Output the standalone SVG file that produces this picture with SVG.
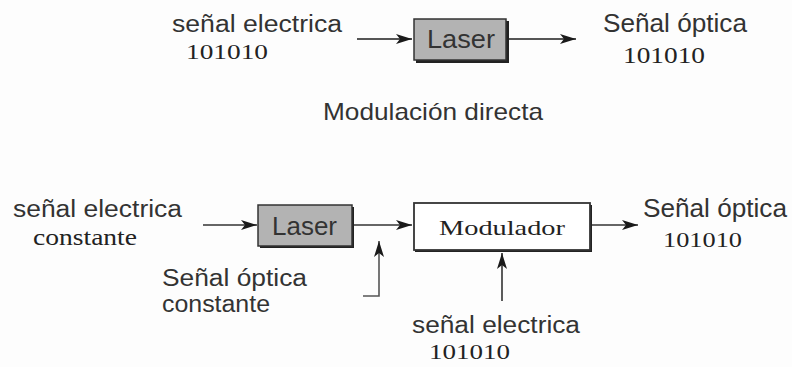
<svg xmlns="http://www.w3.org/2000/svg" width="792" height="367" viewBox="0 0 792 367">
<defs>
<marker id="ah" markerUnits="userSpaceOnUse" markerWidth="18" markerHeight="12" refX="16" refY="5" orient="auto">
<path d="M0,0 L16,5 L0,10 L4,5 z" fill="#1a1a1a"/>
</marker>
</defs>
<style>
.sans{font-family:"Liberation Sans",Arial,sans-serif;fill:#333}
.serif{font-family:"Liberation Serif","Times New Roman",serif;fill:#222}
.conn{stroke:#333;stroke-width:1.6;fill:none}
.connt{stroke:#555;stroke-width:2.2;fill:none}
.laser{fill:#b3b3b3;stroke:#333;stroke-width:1.5}
.shadow{fill:#222}
.mod{fill:#fff;stroke:#333;stroke-width:1.8}
</style>
<rect width="792" height="367" fill="#fdfdfd"/>

<g id="connectors">
<line class="connt" x1="357" y1="39" x2="412" y2="39" marker-end="url(#ah)"/>
<line class="connt" x1="509" y1="39" x2="576" y2="39" marker-end="url(#ah)"/>
<line class="conn" x1="203" y1="225" x2="257" y2="225" marker-end="url(#ah)"/>
<line class="conn" x1="354" y1="225" x2="412" y2="225" marker-end="url(#ah)"/>
<line class="conn" x1="592" y1="225" x2="638" y2="225" marker-end="url(#ah)"/>
<polyline class="conn" points="363,296 379,296 379,241" marker-end="url(#ah)" style="stroke:#555"/>
<line class="conn" x1="502" y1="301" x2="502" y2="253" marker-end="url(#ah)"/>
</g>

<g id="top-input">
<text class="sans" x="172" y="32" font-size="23" textLength="170" lengthAdjust="spacingAndGlyphs">señal electrica</text>
<text class="serif" x="186" y="59" font-size="21" textLength="82" lengthAdjust="spacingAndGlyphs">101010</text>
</g>

<g id="top-laser">
<rect class="shadow" x="416" y="21" width="93" height="42"/>
<rect class="laser" x="414" y="19" width="92" height="41"/>
<text class="sans" x="427" y="48" font-size="25" textLength="68" lengthAdjust="spacingAndGlyphs">Laser</text>
</g>

<g id="top-output">
<text class="sans" x="603" y="32" font-size="25" textLength="144" lengthAdjust="spacingAndGlyphs">Señal óptica</text>
<text class="serif" x="623" y="63" font-size="23" textLength="82" lengthAdjust="spacingAndGlyphs">101010</text>
</g>

<g id="title">
<text class="sans" x="323" y="120" font-size="24" textLength="220" lengthAdjust="spacingAndGlyphs">Modulación directa</text>
</g>

<g id="bottom-input">
<text class="sans" x="13" y="217" font-size="23" textLength="169" lengthAdjust="spacingAndGlyphs">señal electrica</text>
<text class="serif" x="33" y="245" font-size="24" textLength="104" lengthAdjust="spacingAndGlyphs">constante</text>
</g>

<g id="bottom-laser">
<rect class="shadow" x="260" y="207" width="94" height="41"/>
<rect class="laser" x="258" y="205" width="94" height="41"/>
<text class="sans" x="272" y="235" font-size="25" textLength="65" lengthAdjust="spacingAndGlyphs">Laser</text>
</g>

<g id="modulador">
<rect class="shadow" x="415" y="205" width="177" height="47"/>
<rect class="mod" x="414" y="203" width="176" height="47"/>
<text class="serif" x="439" y="235" font-size="21" textLength="126" lengthAdjust="spacingAndGlyphs">Modulador</text>
</g>

<g id="bottom-output">
<text class="sans" x="643" y="217" font-size="25" textLength="144" lengthAdjust="spacingAndGlyphs">Señal óptica</text>
<text class="serif" x="663" y="247" font-size="22" textLength="79" lengthAdjust="spacingAndGlyphs">101010</text>
</g>

<g id="optical-constant">
<text class="sans" x="162" y="286" font-size="23" textLength="145" lengthAdjust="spacingAndGlyphs">Señal óptica</text>
<text class="sans" x="162" y="312" font-size="23" textLength="108" lengthAdjust="spacingAndGlyphs">constante</text>
</g>

<g id="modulating-signal">
<text class="sans" x="412" y="333" font-size="23" textLength="168" lengthAdjust="spacingAndGlyphs">señal electrica</text>
<text class="serif" x="429" y="359" font-size="22" textLength="81" lengthAdjust="spacingAndGlyphs">101010</text>
</g>
</svg>
